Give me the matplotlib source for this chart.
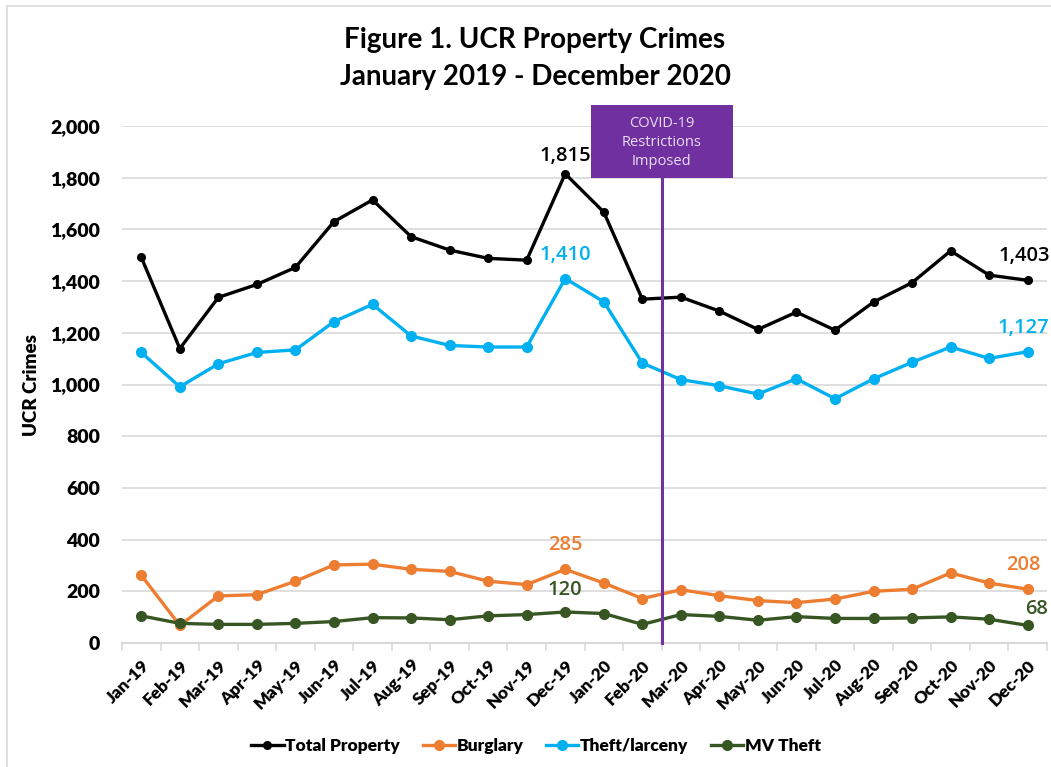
import matplotlib.pyplot as plt
from matplotlib.patches import Rectangle
from matplotlib.ticker import FuncFormatter, MultipleLocator

months = ["Jan-19", "Feb-19", "Mar-19", "Apr-19", "May-19", "Jun-19", "Jul-19", "Aug-19",
          "Sep-19", "Oct-19", "Nov-19", "Dec-19", "Jan-20", "Feb-20", "Mar-20", "Apr-20",
          "May-20", "Jun-20", "Jul-20", "Aug-20", "Sep-20", "Oct-20", "Nov-20", "Dec-20"]
total_property = [1492, 1139, 1337, 1387, 1453, 1630, 1714, 1572, 1520, 1488, 1481, 1815,
                  1667, 1330, 1338, 1284, 1213, 1280, 1210, 1319, 1394, 1517, 1423, 1403]
burglary = [262, 68, 182, 187, 239, 302, 305, 285, 277, 239, 226, 285,
            232, 172, 206, 183, 164, 156, 170, 200, 208, 271, 232, 208]
theft_larceny = [1124, 991, 1080, 1124, 1134, 1243, 1310, 1188, 1151, 1145, 1145, 1410,
                 1320, 1083, 1019, 995, 963, 1022, 945, 1022, 1086, 1145, 1101, 1127]
mv_theft = [105, 76, 72, 72, 76, 83, 98, 97, 90, 105, 110, 120,
            114, 72, 110, 103, 88, 102, 95, 95, 97, 101, 92, 68]

series = [
    ("Total Property", total_property, "#000000", 5.5),
    ("Burglary", burglary, "#ED7D31", 7),
    ("Theft/larceny", theft_larceny, "#00B0F0", 7),
    ("MV Theft", mv_theft, "#375623", 7),
]

plt.rcParams["font.family"] = ["Lato", "DejaVu Sans"]

fig = plt.figure(figsize=(10.51, 7.67), dpi=100)
# chart border (cut off at right and bottom like the reference)
fig.patches.append(Rectangle((7 / 1051, -0.1), 1.2, 1 - 6 / 767 + 0.1, transform=fig.transFigure,
                             fill=False, edgecolor="#D9D9D9", linewidth=1.2))
ax = fig.add_axes([122 / 1051, 1 - 643 / 767, 925 / 1051, 517 / 767])

x = list(range(len(months)))
for name, vals, color, ms in series:
    ax.plot(x, vals, color=color, lw=2.4, marker="o", ms=ms, label=name, zorder=3)

ax.set_xlim(-0.5, len(months) - 0.5)
ax.set_ylim(0, 2000)
ax.yaxis.set_major_locator(MultipleLocator(200))
ax.yaxis.set_major_formatter(FuncFormatter(lambda v, p: f"{int(v):,}"))
ax.grid(axis="y", color="#D9D9D9", lw=1.2, zorder=0)
ax.set_axisbelow(True)
for s in ["left", "right", "top"]:
    ax.spines[s].set_visible(False)
ax.spines["bottom"].set_color("#D9D9D9")
ax.spines["bottom"].set_linewidth(1.5)

ax.set_xticks(x)
ax.set_xticklabels(months, rotation=45, ha="right", rotation_mode="anchor",
                   fontsize=12.5, fontweight="heavy")
ax.set_xticks([k + 0.5 for k in range(-1, len(months))], minor=True)
ax.tick_params(axis="x", which="major", length=0, pad=10)
ax.tick_params(axis="x", which="minor", length=6, color="#D9D9D9", width=1.2)
ax.tick_params(axis="y", length=0, pad=16, labelsize=14)
for lbl in ax.get_yticklabels():
    lbl.set_fontweight("heavy")
ax.set_ylabel("UCR Crimes", fontsize=13.5, fontweight="heavy", labelpad=7)

# COVID-19 marker
purple = "#7030A0"
ax.plot([13.5, 13.5], [0, 1800], color=purple, lw=2.2, zorder=4, clip_on=False)
ax.add_patch(Rectangle((11.67, 1800), 3.68, 282, facecolor=purple, edgecolor="none",
                       zorder=5, clip_on=False))
ax.text(13.5, 1936, "COVID-19\nRestrictions\nImposed", ha="center", va="center",
        color="#E8DEF2", fontsize=10.5, family="Open Sans", linespacing=1.35,
        zorder=6, clip_on=False)

# data labels
label_font = dict(family="Open Sans", fontsize=14.5, fontweight="semibold")
for vals, color in [(total_property, "#000000"), (theft_larceny, "#00B0F0"), (burglary, "#ED7D31")]:
    for i in (11, 23):
        dy = 18 if (vals is total_property and i == 11) else 24
        dx = -4 if i == 23 else 0
        ax.annotate(f"{vals[i]:,}", (i, vals[i]), xytext=(dx, dy), textcoords="offset pixels",
                    ha="center", va="center", color=color, annotation_clip=False, **label_font)
ax.annotate(f"{mv_theft[11]:,}", (11, mv_theft[11]), xytext=(0, 22), textcoords="offset pixels",
            ha="center", va="center", color="#375623", annotation_clip=False, **label_font)
ax.annotate(f"{mv_theft[23]:,}", (23, mv_theft[23]), xytext=(9, 16), textcoords="offset pixels",
            ha="center", va="center", color="#375623", annotation_clip=False, **label_font)

fig.suptitle("Figure 1. UCR Property Crimes\nJanuary 2019 - December 2020", x=535 / 1051,
             y=1 - 27 / 767, va="top", fontsize=20, fontweight="bold", linespacing=1.5)

leg = fig.legend(loc="center", bbox_to_anchor=(536 / 1051, 1 - 746 / 767), ncol=4,
                 frameon=False, prop=dict(size=12.5, weight="heavy"), handlelength=1.85,
                 handletextpad=0.1, columnspacing=1.3)

fig.savefig("out.png", dpi=100)
